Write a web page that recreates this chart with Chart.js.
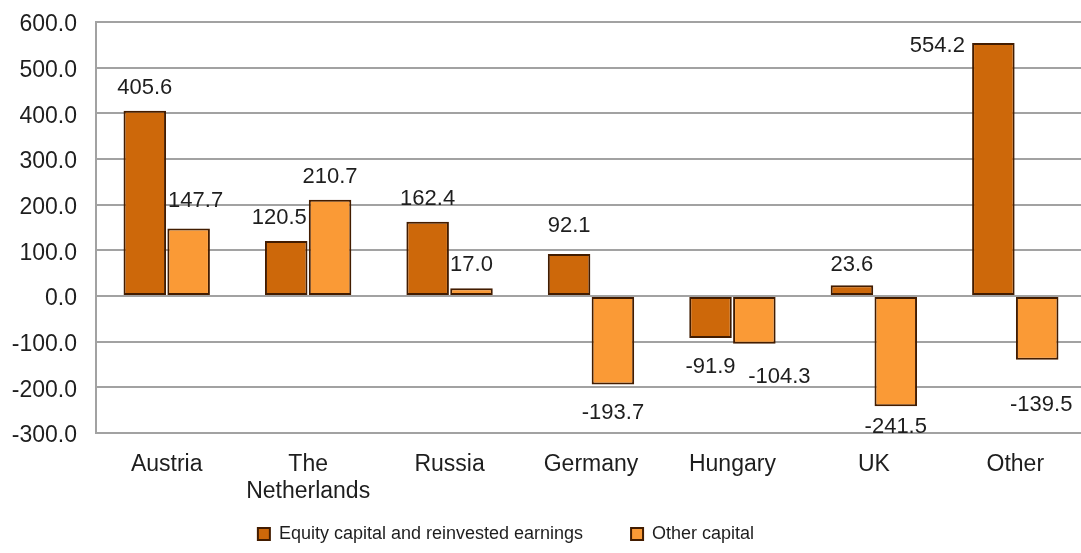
<!DOCTYPE html>
<html>
<head>
<meta charset="utf-8">
<script src="https://cdn.jsdelivr.net/npm/chart.js@4"></script>
<style>
  html, body { margin: 0; padding: 0; background: #ffffff; overflow: hidden; }
  #wrap { width: 1086px; height: 553px; }
</style>
</head>
<body>
<div id="wrap"><canvas id="c" width="1086" height="553"></canvas></div>
<script>
const categories = ["Austria", ["The", "Netherlands"], "Russia", "Germany", "Hungary", "UK", "Other"];
const equityValues = [405.6, 120.5, 162.4, 92.1, -91.9, 23.6, 554.2];
const otherValues = [147.7, 210.7, 17.0, -193.7, -104.3, -241.5, -139.5];
const seriesNames = ["Equity capital and reinvested earnings", "Other capital"];
const yTicks = [-300, -200, -100, 0, 100, 200, 300, 400, 500, 600];

// small pixel nudges for value labels (dx, dy), to avoid overlaps like the original
const labelNudges = [
  [[0,0],[-7,0],[0,0],[0,-5],[0,1],[0,3],[-56,26]],
  [[7,-5],[0,0],[0,0],[0,0],[25,5],[0,-7],[4,17]]
];

const FONT = '"Liberation Sans", Arial, sans-serif';

const valueLabels = {
  id: 'valueLabels',
  afterDatasetsDraw(chart) {
    const ctx = chart.ctx;
    ctx.save();
    ctx.font = '22px ' + FONT;
    ctx.fillStyle = '#1e1e1e';
    ctx.textAlign = 'center';
    ctx.textBaseline = 'middle';
    chart.data.datasets.forEach((ds, di) => {
      const meta = chart.getDatasetMeta(di);
      meta.data.forEach((bar, i) => {
        const v = ds.data[i];
        const n = labelNudges[di][i];
        const y = v >= 0 ? bar.y - 23 : bar.y + 28;
        ctx.fillText(v.toFixed(1), bar.x + n[0], y + n[1]);
      });
    });
    ctx.restore();
  }
};

// legend sits a little left of centre in the original; also let the x labels draw past their box
const layoutTweaks = {
  id: 'layoutTweaks',
  afterLayout(chart) {
    if (chart.legend) {
      chart.legend.left -= 37;
      chart.legend.right -= 37;
    }
    if (chart.scales.x) {
      chart.scales.x.bottom = chart.height;
    }
  }
};

new Chart(document.getElementById('c'), {
  type: 'bar',
  data: {
    labels: categories,
    datasets: [
      {
        label: seriesNames[0],
        data: equityValues,
        backgroundColor: '#CD680A',
        borderColor: '#421C00',
        borderWidth: 2,
        borderSkipped: false
      },
      {
        label: seriesNames[1],
        data: otherValues,
        backgroundColor: '#FA9A36',
        borderColor: '#421C00',
        borderWidth: 2,
        borderSkipped: false
      }
    ]
  },
  options: {
    responsive: false,
    animation: false,
    devicePixelRatio: 1,
    categoryPercentage: 0.62,
    barPercentage: 0.97,
    layout: { padding: { top: 22, left: 0, right: 0, bottom: 0 } },
    plugins: {
      tooltip: { enabled: false },
      legend: {
        position: 'bottom',
        labels: {
          boxWidth: 12,
          boxHeight: 12,
          padding: 48,
          color: '#1e1e1e',
          font: { family: FONT, size: 18 }
        }
      }
    },
    scales: {
      x: {
        grid: { display: false },
        border: { display: false },
        ticks: {
          color: '#1e1e1e',
          padding: 10,
          maxRotation: 0,
          autoSkip: false,
          font: { family: FONT, size: 23, lineHeight: 1.18 }
        },
        afterFit(scale) { scale.height = 44; }
      },
      y: {
        min: -300,
        max: 600,
        afterBuildTicks(scale) { scale.ticks = yTicks.map(v => ({ value: v })); },
        grid: { color: '#A2A2A2', lineWidth: 2, drawTicks: true, tickLength: 19, tickColor: 'rgba(0,0,0,0)' },
        border: { display: true, color: '#A2A2A2', width: 2 },
        ticks: {
          color: '#1e1e1e',
          padding: 0,
          labelOffset: 3,
          font: { family: FONT, size: 23 },
          callback: v => Number(v).toFixed(1)
        },
        afterFit(scale) { scale.width = 96; }
      }
    }
  },
  plugins: [valueLabels, layoutTweaks]
});
</script>
</body>
</html>
